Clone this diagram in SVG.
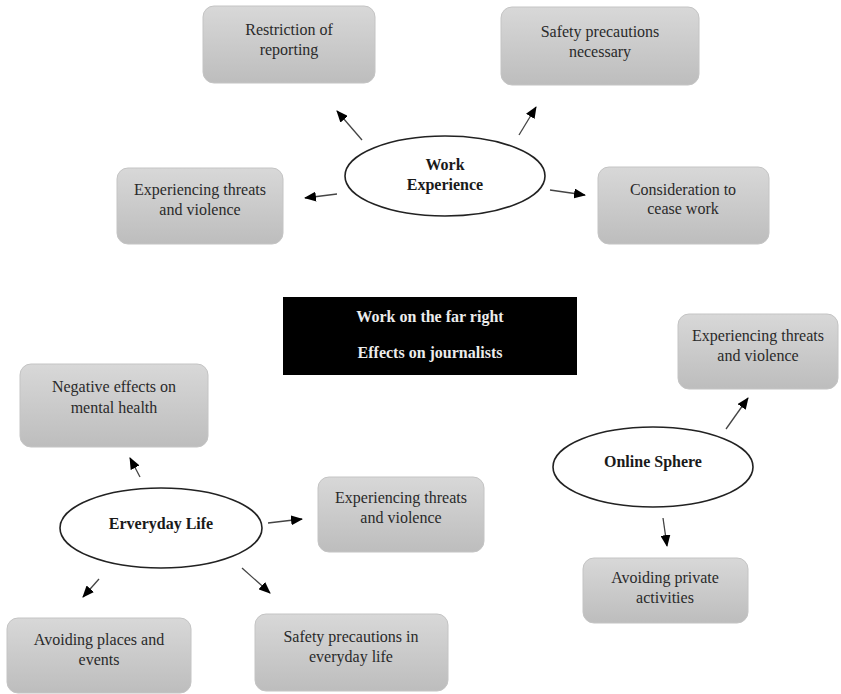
<svg xmlns="http://www.w3.org/2000/svg" width="841" height="694" viewBox="0 0 841 694">
<style>
.box{fill:url(#g);stroke:#c4c4c4;stroke-width:1}
.t{font-family:"Liberation Serif","Times New Roman",serif;font-size:16px;fill:#2a2a2a;text-anchor:middle}
.b{font-family:"Liberation Serif","Times New Roman",serif;font-size:16px;font-weight:bold;fill:#1a1a1a;text-anchor:middle}
.w{font-family:"Liberation Serif","Times New Roman",serif;font-size:16px;font-weight:bold;fill:#ececec;text-anchor:middle}
.ell{fill:#fff;stroke:#222;stroke-width:1.6}
.c{stroke:#444;stroke-width:1.3;fill:none;marker-end:url(#ah)}
</style>
<defs>
<linearGradient id="g" x1="0" y1="0" x2="0" y2="1">
<stop offset="0" stop-color="#d8d8d8"/>
<stop offset="1" stop-color="#bdbdbd"/>
</linearGradient>
<marker id="ah" markerUnits="userSpaceOnUse" markerWidth="12" markerHeight="10" refX="11" refY="5" orient="auto">
<path d="M0,0 L12,5 L0,10 Z" fill="#000"/>
</marker>
</defs>
<rect width="841" height="694" fill="#fff"/>
<g id="connectors">
<line class="c" x1="362" y1="140" x2="337" y2="111"/>
<line class="c" x1="519" y1="135" x2="536" y2="107"/>
<line class="c" x1="337" y1="194" x2="305" y2="198"/>
<line class="c" x1="550" y1="190" x2="585" y2="195"/>
<line class="c" x1="140" y1="477" x2="130" y2="458"/>
<line class="c" x1="268" y1="523" x2="302" y2="519"/>
<line class="c" x1="99" y1="579" x2="83" y2="597"/>
<line class="c" x1="242" y1="568" x2="270" y2="593"/>
<line class="c" x1="726" y1="429" x2="748" y2="398"/>
<line class="c" x1="663" y1="518" x2="667" y2="546"/>
</g>
<g id="restriction"><rect class="box" x="203" y="6" width="172" height="77" rx="11"/><text class="t" x="289" y="35">Restriction of</text><text class="t" x="289" y="55">reporting</text></g>
<g id="safety-necessary"><rect class="box" x="501" y="7" width="198" height="78" rx="11"/><text class="t" x="600" y="37">Safety precautions</text><text class="t" x="600" y="57">necessary</text></g>
<g id="threats-work"><rect class="box" x="117" y="168" width="166" height="76" rx="11"/><text class="t" x="200" y="195">Experiencing threats</text><text class="t" x="200" y="215">and violence</text></g>
<g id="cease-work"><rect class="box" x="598" y="167" width="171" height="77" rx="11"/><text class="t" x="683" y="195">Consideration to</text><text class="t" x="683" y="214">cease work</text></g>
<g id="work-experience"><ellipse class="ell" cx="445" cy="176" rx="100" ry="40"/><text class="b" x="445" y="170">Work</text><text class="b" x="445" y="190">Experience</text></g>
<g id="title"><rect x="283" y="297" width="294" height="78" fill="#000"/><text class="w" x="430" y="322">Work on the far right</text><text class="w" x="430" y="358">Effects on journalists</text></g>
<g id="threats-online"><rect class="box" x="678" y="314" width="160" height="75" rx="11"/><text class="t" x="758" y="341">Experiencing threats</text><text class="t" x="758" y="361">and violence</text></g>
<g id="mental-health"><rect class="box" x="20" y="364" width="188" height="83" rx="11"/><text class="t" x="114" y="392">Negative effects on</text><text class="t" x="114" y="413">mental health</text></g>
<g id="online-sphere"><ellipse class="ell" cx="653" cy="467" rx="100" ry="40"/><text class="b" x="653" y="467">Online Sphere</text></g>
<g id="threats-everyday"><rect class="box" x="318" y="477" width="166" height="75" rx="11"/><text class="t" x="401" y="503">Experiencing threats</text><text class="t" x="401" y="523">and violence</text></g>
<g id="everyday-life"><ellipse class="ell" cx="161" cy="528" rx="101" ry="40"/><text class="b" x="161" y="529">Erveryday Life</text></g>
<g id="avoid-private"><rect class="box" x="583" y="558" width="165" height="65" rx="11"/><text class="t" x="665" y="583">Avoiding private</text><text class="t" x="665" y="603">activities</text></g>
<g id="avoid-places"><rect class="box" x="7" y="618" width="184" height="75" rx="11"/><text class="t" x="99" y="645">Avoiding places and</text><text class="t" x="99" y="665">events</text></g>
<g id="safety-everyday"><rect class="box" x="255" y="614" width="193" height="77" rx="11"/><text class="t" x="351" y="642">Safety precautions in</text><text class="t" x="351" y="662">everyday life</text></g>
</svg>
